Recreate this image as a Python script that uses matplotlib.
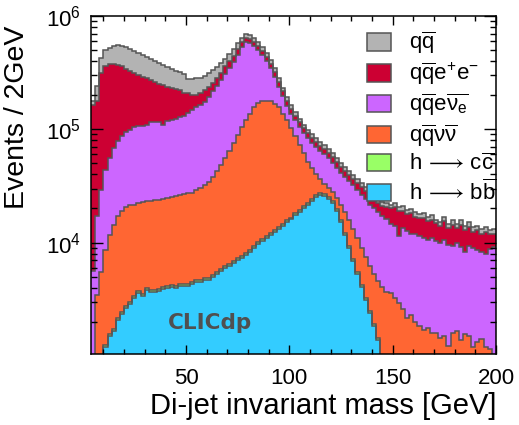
import numpy as np
import matplotlib
matplotlib.use("Agg")
import matplotlib.pyplot as plt
from matplotlib.patches import Patch
from matplotlib.ticker import MultipleLocator, LogLocator, LogFormatterMathtext, NullFormatter

plt.rcParams['font.family'] = ['Liberation Sans', 'DejaVu Sans']
plt.rcParams['mathtext.fontset'] = 'custom'
plt.rcParams['mathtext.rm'] = 'Liberation Sans'
plt.rcParams['mathtext.it'] = 'Liberation Sans'
plt.rcParams['mathtext.bf'] = 'Liberation Sans:bold'
plt.rcParams['mathtext.default'] = 'regular'

# 2 GeV bins from 4 to 200 GeV
bin_edges = np.arange(4, 202, 2)

# events per bin, in thousands
n_bb = [0, 0.4, 0.8, 1.20, 1.50, 1.66, 2.07, 2.34, 2.63, 2.86,
        3.23, 3.58, 3.36, 3.80, 3.65, 3.65, 3.72, 3.88, 3.96, 4.04,
        3.96, 4.12, 4.12, 4.12, 4.29, 4.47, 4.47, 4.65, 4.65, 4.95,
        5.26, 5.59, 5.94, 6.18, 6.57, 6.98, 7.27, 7.73, 8.22, 8.92,
        9.66, 10.3, 10.9, 11.6, 12.3, 13.1, 13.9, 15.1, 16.0, 17.4,
        18.5, 20.1, 21.3, 23.1, 25.1, 26.1, 25.6, 24.1, 22.2, 18.9,
        15.1, 11.6, 8.92, 6.84, 5.26, 4.04, 3.10, 2.38, 1.83, 1.38,
        0.95, 0.60, 0.35, 0.20, 0.10, 0, 0, 0, 0, 0,
        0, 0, 0, 0, 0, 0, 0, 0, 0, 0,
        0, 0, 0, 0, 0, 0, 0, 0]
n_cc = [0, 0.02, 0.03, 0.05, 0.06, 0.07, 0.08, 0.09, 0.10, 0.11,
        0.13, 0.14, 0.13, 0.15, 0.15, 0.15, 0.15, 0.16, 0.16, 0.16,
        0.16, 0.17, 0.17, 0.17, 0.17, 0.18, 0.18, 0.19, 0.19, 0.20,
        0.21, 0.22, 0.24, 0.25, 0.26, 0.28, 0.29, 0.31, 0.33, 0.36,
        0.39, 0.41, 0.44, 0.46, 0.49, 0.52, 0.56, 0.60, 0.64, 0.70,
        0.74, 0.80, 0.85, 0.92, 1.00, 1.04, 1.02, 0.96, 0.89, 0.76,
        0.60, 0.46, 0.36, 0.27, 0.21, 0.16, 0.12, 0.10, 0.07, 0.06,
        0.04, 0.025, 0.015, 0.01, 0.005, 0, 0, 0, 0, 0,
        0, 0, 0, 0, 0, 0, 0, 0, 0, 0,
        0, 0, 0, 0, 0, 0, 0, 0]
n_qqvv = [0.5, 3.0, 4.64, 7.30, 10.0, 12.5, 14.9, 16.5, 17.8, 18.3,
          18.3, 18.5, 19.2, 19.2, 19.3, 19.8, 19.7, 20.1, 20.5, 20.9,
          21.5, 21.8, 22.3, 22.9, 23.2, 24.3, 25.5, 27.2, 29.2, 32.6,
          37.0, 42.2, 49.1, 57.4, 68.2, 80.9, 96.4, 112, 128, 147,
          162, 168, 168, 167, 156, 145, 123, 104, 85.4, 68.3,
          52.8, 40.3, 29.8, 21.2, 13.9, 9.0, 6.1, 5.0, 4.6, 4.9,
          5.6, 6.4, 6.4, 6.0, 5.4, 4.7, 4.2, 3.7, 3.36, 3.12,
          3.04, 3.02, 3.21, 3.02, 2.81, 2.58, 2.15, 2.29, 1.99, 1.83,
          1.69, 1.76, 1.59, 1.59, 1.44, 1.50, 1.22, 1.59, 1.66, 1.38,
          1.56, 1.50, 1.20, 1.33, 1.41, 1.20, 1.15, 1.00]
n_qqev = [5.1, 13.6, 23.4, 34.9, 43.7, 53.6, 61.1, 67.5, 73.2, 78.3,
          82.3, 83.8, 85.3, 86.9, 91.9, 91.4, 91.4, 83.9, 93.4, 94.9,
          96.4, 101, 105, 113, 121, 127, 135, 143, 157, 182,
          200, 227, 255, 286, 321, 368, 432, 474, 445, 391,
          332, 277, 225, 171, 123, 79, 58, 42, 35, 33.6,
          32, 30.7, 31.0, 29.8, 29.1, 27.7, 27.3, 25.2, 22.3, 20.6,
          19.5, 19.2, 19.0, 18.9, 18.0, 17.2, 16.7, 15.5, 14.8, 13.9,
          13.0, 12.4, 10.9, 10.7, 8.5, 10.8, 10.6, 9.5, 10.0, 9.6,
          9.4, 8.7, 9.3, 8.7, 8.4, 9.0, 8.4, 7.7, 8.2, 7.7,
          6.7, 7.8, 7.7, 7.2, 6.8, 6.7, 7.6, 8.1]
n_qqee = [159, 162, 288, 322, 325, 312, 294, 272, 249, 230,
          213, 198, 184, 176, 160, 149, 138, 140, 120, 113,
          107, 93, 79, 67, 54, 43, 42, 45, 47, 38,
          43, 42, 48, 54, 51, 59, 58, 50, 49, 47,
          43, 39, 34, 30, 31, 26, 21, 17, 15, 12,
          11, 10.1, 8.9, 8.0, 7.4, 6.8, 6.4, 5.9, 6.5, 5.8,
          5.3, 4.8, 4.5, 4.1, 4.4, 4.6, 4.2, 4.4, 4.0, 3.7,
          3.9, 4.5, 5.6, 6.6, 7.5, 5.5, 5.0, 6.3, 5.0, 5.0,
          5.3, 4.9, 5.1, 4.5, 4.3, 4.9, 3.9, 4.9, 3.5, 5.1,
          4.6, 4.3, 3.6, 4.5, 3.8, 4.6, 3.1, 2.9]
n_qq = [14, 64, 112, 139, 145, 167, 186, 189, 193, 185,
        178, 171, 164, 152, 146, 140, 135, 124, 120, 110,
        101, 103, 99, 73, 77, 87, 79, 78, 79, 79,
        72, 71, 63, 62, 68, 67, 50, 54, 54, 50,
        47, 41, 37, 32, 27, 22, 17, 16, 13, 11,
        9.0, 8.0, 7.7, 7.0, 6.5, 5.9, 5.6, 5.2, 4.7, 4.3,
        3.9, 3.6, 3.3, 3.1, 2.8, 2.6, 2.4, 2.2, 2.0, 2.4,
        1.8, 1.7, 1.6, 1.7, 1.6, 2.0, 1.5, 1.6, 1.5, 1.4,
        1.7, 1.3, 1.4, 1.2, 1.2, 1.3, 1.2, 1.5, 1.1, 1.5,
        1.1, 1.5, 1.1, 1.1, 1.1, 1.1, 1.0, 1.1]

# stack order, bottom first
samples = [n_bb, n_cc, n_qqvv, n_qqev, n_qqee, n_qq]
labels = [r'$h\,\longrightarrow\,b\overline{b}$', r'$h\,\longrightarrow\,c\overline{c}$',
          r'$q\overline{q}\nu\overline{\nu}$', r'$q\overline{q}e\overline{\nu_{e}}$',
          r'$q\overline{q}e^{+}e^{-}$', r'$q\overline{q}$']
colors = ['#33ccff', '#99ff66', '#ff6633', '#cc66ff', '#cc0033', '#b3b3b3']
edge = '#555555'

fig = plt.figure(figsize=(5.19, 4.25), dpi=100)
ax = fig.add_axes([0.1753, 0.1671, 0.7804, 0.7953])

lower = np.zeros(len(bin_edges) - 1)
tops = []
for vals, col in zip(samples, colors):
    upper = lower + np.array(vals) * 1000.0
    ax.stairs(np.maximum(upper, 1.0), bin_edges, baseline=np.maximum(lower, 1.0),
              fill=True, color=col, linewidth=0)
    tops.append(upper)
    lower = upper
for upper in tops:
    ax.stairs(np.maximum(upper, 1.0), bin_edges, baseline=None, color=edge, linewidth=1.1)

ax.set_yscale('log')
ax.set_xlim(4, 200)
ax.set_ylim(1040, 1e6)

ax.xaxis.set_major_locator(MultipleLocator(50))
ax.xaxis.set_minor_locator(MultipleLocator(10))
ax.yaxis.set_major_locator(LogLocator(base=10))
ax.yaxis.set_minor_locator(LogLocator(base=10, subs=np.arange(2, 10)))
ax.yaxis.set_major_formatter(LogFormatterMathtext())
ax.yaxis.set_minor_formatter(NullFormatter())

ax.tick_params(which='both', direction='in', top=True, right=True, width=1.0, labelsize=16)
ax.tick_params(axis='x', which='major', length=6.5, pad=10)
ax.tick_params(axis='x', which='minor', length=3.3)
ax.tick_params(axis='y', which='major', length=8.6, pad=7)
ax.tick_params(axis='y', which='minor', length=4.3)
for sp in ax.spines.values():
    sp.set_linewidth(1.1)

ax.set_xlabel('Di-jet invariant mass [GeV]', fontsize=21, loc='right', labelpad=2)
ax.set_ylabel('Events / 2GeV', fontsize=20.5, loc='top')
ax.yaxis.set_label_coords(-0.15, 0.972)

handles = [Patch(facecolor=c, edgecolor=edge, linewidth=1.1) for c in colors]
ax.legend(handles[::-1], labels[::-1], loc='upper left', bbox_to_anchor=(0.66, 0.985),
          frameon=False, fontsize=16, handlelength=1.05, handleheight=0.85,
          handletextpad=0.85, labelspacing=0.2, borderaxespad=0)

ax.text(0.294, 0.092, 'CLICdp', transform=ax.transAxes, ha='center', va='center',
        fontsize=15.5, fontweight='bold', color='#505050', family='DejaVu Sans')

fig.savefig('out.png', dpi=100)
